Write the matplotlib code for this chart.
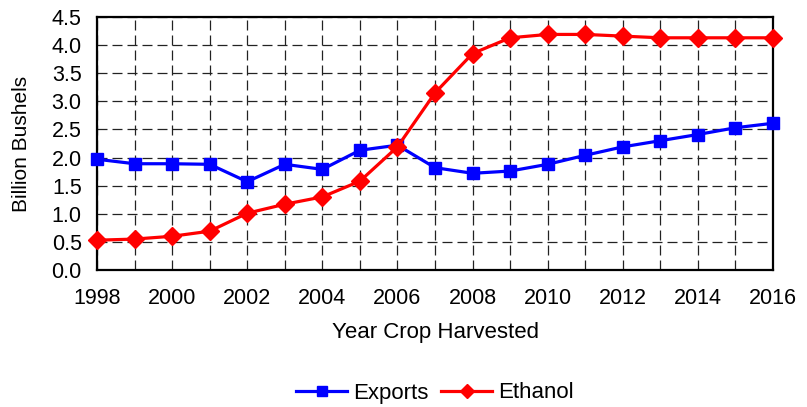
import matplotlib
matplotlib.use("Agg")
import matplotlib.pyplot as plt
from matplotlib.ticker import MultipleLocator, FormatStrFormatter

years = list(range(1998, 2017))
exports = [1.97, 1.89, 1.89, 1.88, 1.57, 1.88, 1.79, 2.13, 2.22, 1.82, 1.72,
           1.76, 1.88, 2.04, 2.19, 2.30, 2.41, 2.53, 2.61]
ethanol = [0.53, 0.55, 0.60, 0.69, 1.01, 1.17, 1.30, 1.58, 2.19, 3.15, 3.85,
           4.13, 4.19, 4.19, 4.16, 4.13, 4.13, 4.13, 4.13]

plt.rcParams['font.family'] = ['Liberation Sans', 'DejaVu Sans']

fig = plt.figure(figsize=(8.07, 4.07), dpi=100)
ax = fig.add_axes([97 / 807, 1 - 270 / 407, (773 - 97) / 807, (270 - 17) / 407])

ax.plot(years, exports, color='#0000FF', lw=2.3, marker='s', ms=9,
        label='Exports', clip_on=False, zorder=3)
ax.plot(years, ethanol, color='#FF0000', lw=2.3, marker='D', ms=9.5,
        label='Ethanol', clip_on=False, zorder=4)

ax.set_xlim(1998, 2016)
ax.set_ylim(0, 4.5)
ax.xaxis.set_major_locator(MultipleLocator(2))
ax.xaxis.set_minor_locator(MultipleLocator(1))
ax.yaxis.set_major_locator(MultipleLocator(0.5))
ax.yaxis.set_major_formatter(FormatStrFormatter('%.1f'))

ax.grid(which='both', color='#222222', linestyle=(0, (8, 4)), lw=0.9)
ax.tick_params(which='both', length=0, labelsize=15.5)
ax.tick_params(axis='y', pad=11)
ax.tick_params(axis='x', pad=13)
for s in ax.spines.values():
    s.set_linewidth(1.6)
    s.set_color('black')

ax.set_xlabel('Year Crop Harvested', fontsize=16, labelpad=9)
ax.set_ylabel('Billion Bushels', fontsize=15, labelpad=15)

fig.legend(loc='center', bbox_to_anchor=(435 / 807, 1 - 393 / 407), ncol=2,
           frameon=False, fontsize=16, handlelength=2.3, columnspacing=0.55,
           handletextpad=0.27, markerscale=0.8)

fig.savefig('out.png', dpi=100)
